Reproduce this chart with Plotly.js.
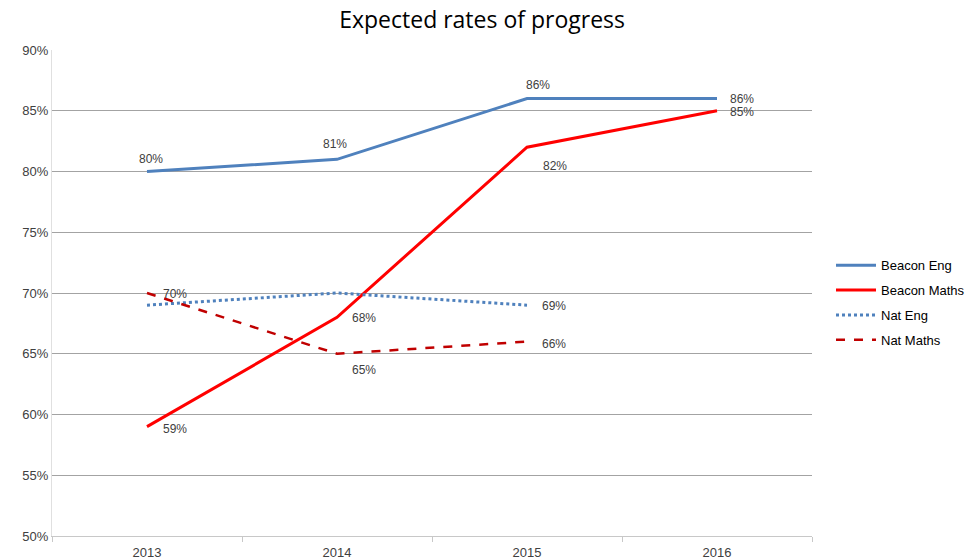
<!DOCTYPE html>
<html>
<head>
<meta charset="utf-8">
<script src="https://cdn.plot.ly/plotly-3.0.1.min.js"></script>
<style>html,body{margin:0;padding:0;background:#fff;}#chart{width:972px;height:560px;}</style>
</head>
<body>
<div id="chart"></div>
<script>
const years = ['2013', '2014', '2015', '2016'];
const beaconEng = [80, 81, 86, 86];
const beaconMaths = [59, 68, 82, 85];
const natEng = [69, 70, 69, null];
const natMaths = [70, 65, 66, null];
const yTicks = [50, 55, 60, 65, 70, 75, 80, 85, 90];

// which data labels are shown
const showBeaconEng = [true, true, true, true];
const showBeaconMaths = [true, true, true, true];
const showNatEng = [false, false, true, false];
const showNatMaths = [true, true, true, false];

// label placement styles (pixel offsets from the point): [xanchor, xshift, yshift]
const placeBeaconEng = [['center', 4, 13], ['center', -2, 15], ['center', 11, 14], ['left', 11, 0]];
const placeBeaconMaths = [['left', 14, -2], ['left', 13, -1], ['left', 14, -19], ['left', 11, -1]];
const placeNatEng = [null, null, ['left', 13, -1], null];
const placeNatMaths = [['left', 14, -1], ['left', 13, -16], ['left', 13, -2], null];

const labelFont = {family: 'Liberation Sans, Arial, sans-serif', size: 12, color: '#404040'};

function makeLabels(vals, show, place) {
  const out = [];
  vals.forEach((v, i) => {
    if (!show[i] || v === null || !place[i]) return;
    // category axis: annotation x given as category index
    out.push({x: i, y: v, xref: 'x', yref: 'y', text: v + '%', showarrow: false,
              xanchor: place[i][0], yanchor: 'middle', xshift: place[i][1], yshift: place[i][2],
              font: labelFont});
  });
  return out;
}

const annotations = [].concat(
  makeLabels(beaconEng, showBeaconEng, placeBeaconEng),
  makeLabels(beaconMaths, showBeaconMaths, placeBeaconMaths),
  makeLabels(natEng, showNatEng, placeNatEng),
  makeLabels(natMaths, showNatMaths, placeNatMaths)
);

const traces = [
  {x: years, y: beaconEng, name: 'Beacon Eng', mode: 'lines', legendgroup: 'a',
   line: {color: '#4F81BD', width: 3}},
  {x: years, y: beaconMaths, name: 'Beacon Maths', mode: 'lines', legendgroup: 'b',
   line: {color: '#FF0000', width: 3}},
  {x: years, y: natEng, name: 'Nat Eng', mode: 'lines', legendgroup: 'c',
   line: {color: '#4F81BD', width: 3, dash: 'dot'}},
  {x: years, y: natMaths, name: 'Nat Maths', mode: 'lines', legendgroup: 'd',
   line: {color: '#C00000', width: 2.5, dash: 'dash'}}
];

const tickFont = {family: 'Liberation Sans, Arial, sans-serif', size: 13, color: '#404040'};

const layout = {
  width: 972, height: 560,
  margin: {l: 52, r: 160, t: 50, b: 24, autoexpand: false},
  paper_bgcolor: '#ffffff', plot_bgcolor: '#ffffff',
  title: {text: 'Expected rates of progress', x: 0.496, xanchor: 'center', y: 0.965, yanchor: 'middle',
          font: {family: 'Open Sans, Liberation Sans, sans-serif', size: 23, color: '#000000'}},
  xaxis: {type: 'category', range: [-0.5, 3.5], showgrid: false, zeroline: false,
          showline: true, linecolor: '#c8c8c8', linewidth: 1,
          ticks: 'outside', tickson: 'boundaries', ticklen: 5, tickcolor: '#c8c8c8',
          ticklabelstandoff: 4, tickfont: tickFont},
  yaxis: {range: [50, 90], tickvals: yTicks, ticktext: yTicks.map(v => v + '%'),
          showgrid: true, gridcolor: '#a3a3a3', gridwidth: 1, zeroline: false,
          showline: true, linecolor: '#e0e0e0', ticks: '', ticklabelstandoff: 0,
          tickfont: tickFont},
  legend: {x: 1.025, xanchor: 'left', y: 0.48, yanchor: 'middle', traceorder: 'grouped', tracegroupgap: 5,
           bgcolor: 'rgba(0,0,0,0)',
           font: {family: 'Liberation Sans, Arial, sans-serif', size: 13, color: '#000000'}, itemwidth: 40},
  annotations: annotations,
  showlegend: true
};

Plotly.newPlot('chart', traces, layout, {displayModeBar: false, staticPlot: true});
</script>
</body>
</html>
